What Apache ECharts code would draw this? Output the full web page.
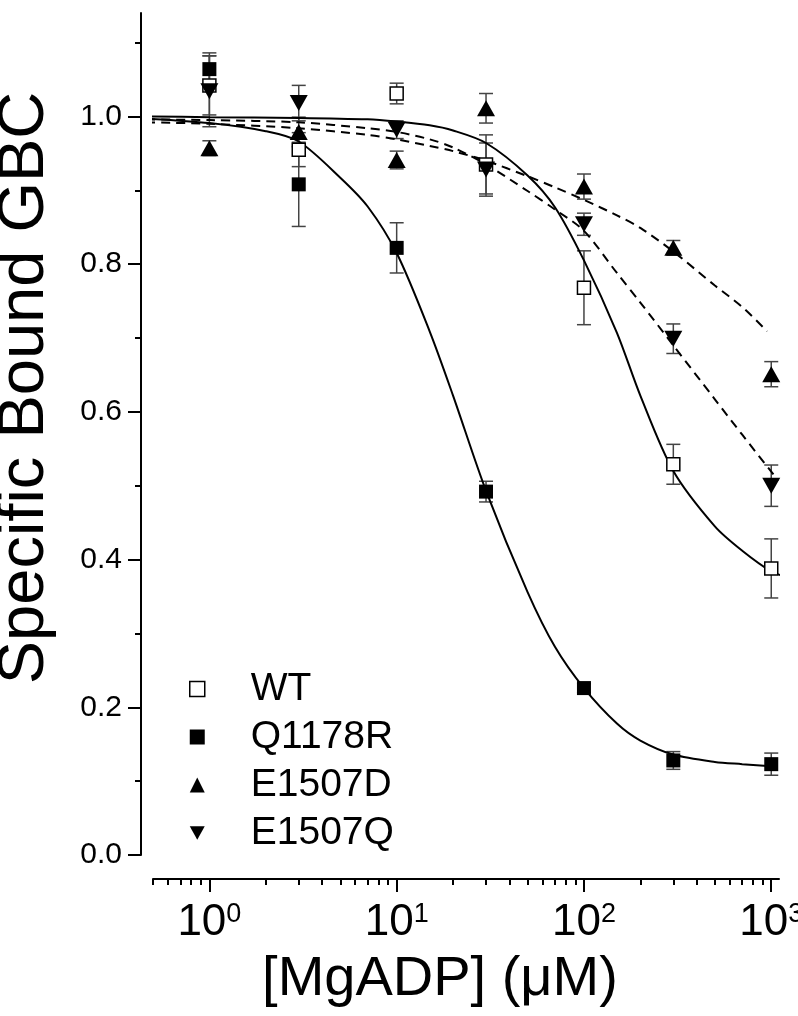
<!DOCTYPE html>
<html>
<head>
<meta charset="utf-8">
<script src="https://cdn.jsdelivr.net/npm/echarts@6/dist/echarts.min.js"></script>
<style>
html,body{margin:0;padding:0;background:#fff;}
#chart{width:798px;height:1016px;}
</style>
</head>
<body>
<div id="chart"></div>
<script>
// ---- data ----
const concentrations = [1, 3, 10, 30, 100, 300, 1000];

const wtValues      = [1.042, 0.955, 1.031, 0.935, 0.768, 0.529, 0.388];
const wtErrors      = [0.040, 0.023, 0.014, 0.040, 0.050, 0.027, 0.040];
const q1178rValues  = [1.064, 0.908, 0.822, 0.492, 0.226, 0.128, 0.123];
const q1178rErrors  = [0.022, 0.057, 0.034, 0.014, 0.006, 0.012, 0.015];
const e1507dValues  = [0.957, 0.979, 0.941, 1.011, 0.905, 0.822, 0.651];
const e1507dErrors  = [0.010, 0.020, 0.012, 0.020, 0.017, 0.010, 0.017];
const e1507qValues  = [1.034, 1.018, 0.982, 0.928, 0.854, 0.699, 0.500];
const e1507qErrors  = [0.048, 0.024, 0.012, 0.036, 0.015, 0.020, 0.028];

// fitted curves
const wtFitX      = [0.46, 1, 3, 7, 10, 15, 20, 30, 50, 70, 100, 150, 200, 300, 500, 700, 1000, 1218];
const wtFitY      = [1.000, 0.999, 0.998, 0.996, 0.993, 0.988, 0.981, 0.964, 0.920, 0.877, 0.805, 0.707, 0.622, 0.520, 0.445, 0.412, 0.384, 0.376];
const q1178rFitX  = [0.46, 1, 2, 3, 5, 7, 10, 15, 20, 30, 50, 70, 100, 150, 200, 300, 500, 700, 1000, 1080];
const q1178rFitY  = [0.997, 0.991, 0.980, 0.966, 0.917, 0.878, 0.815, 0.709, 0.622, 0.493, 0.356, 0.282, 0.226, 0.178, 0.155, 0.136, 0.126, 0.123, 0.120, 0.119];
const e1507dFitX  = [0.46, 1, 3, 7, 10, 15, 20, 30, 50, 70, 100, 150, 200, 300, 500, 700, 950];
const e1507dFitY  = [0.992, 0.990, 0.984, 0.975, 0.969, 0.960, 0.953, 0.940, 0.919, 0.904, 0.887, 0.866, 0.849, 0.817, 0.771, 0.742, 0.709];
const e1507qFitX  = [0.46, 1, 3, 7, 10, 15, 20, 30, 50, 70, 100, 150, 200, 300, 500, 700, 1000, 1090];
const e1507qFitY  = [0.996, 0.995, 0.992, 0.984, 0.979, 0.969, 0.958, 0.935, 0.899, 0.874, 0.845, 0.788, 0.748, 0.690, 0.617, 0.569, 0.519, 0.507];

// axis ticks
const xMajorTicks = [1, 10, 100, 1000];
const xMinorTicks = [0.5, 0.6, 0.7, 0.8, 0.9, 2, 3, 4, 5, 6, 7, 8, 9, 20, 30, 40, 50, 60, 70, 80, 90, 200, 300, 400, 500, 600, 700, 800, 900];
const yMajorTicks = [0, 0.2, 0.4, 0.6, 0.8, 1.0];
const yMinorTicks = [0.1, 0.3, 0.5, 0.7, 0.9, 1.1];

const seriesNames = ['WT', 'Q1178R', 'E1507D', 'E1507Q'];

// ---- chart ----
const FONT = '"Liberation Sans", Arial, sans-serif';
const downTri = 'path://M0,0 L18,0 L9,16 Z';

function rows(vals, errs) { return concentrations.map((c, i) => [c, vals[i], errs[i]]); }
function pts(xs, ys) { return xs.map((x, i) => [x, ys[i]]); }

function errRender(params, api) {
  const x = api.value(0), y = api.value(1), e = api.value(2);
  const top = api.coord([x, y + e]);
  const bot = api.coord([x, y - e]);
  const hw = 7;
  const style = { stroke: '#444', lineWidth: 1.5 };
  return {
    type: 'group',
    children: [
      { type: 'line', shape: { x1: top[0], y1: top[1], x2: bot[0], y2: bot[1] }, style },
      { type: 'line', shape: { x1: top[0] - hw, y1: top[1], x2: top[0] + hw, y2: top[1] }, style },
      { type: 'line', shape: { x1: bot[0] - hw, y1: bot[1], x2: bot[0] + hw, y2: bot[1] }, style }
    ]
  };
}

function errSeries(name, vals, errs) {
  return { type: 'custom', name: name + ' err', renderItem: errRender, data: rows(vals, errs),
           encode: { x: 0, y: 1 }, z: 2, silent: true, clip: false };
}
function fitSeries(name, xs, ys, dashed) {
  return { type: 'line', name: name + ' fit', data: pts(xs, ys), showSymbol: false, symbol: 'none',
           smooth: 0.3, clip: false, z: 3, silent: true,
           lineStyle: { color: '#000', width: 2, type: dashed ? [9, 6] : 'solid' } };
}

const chart = echarts.init(document.getElementById('chart'), null, { renderer: 'canvas' });

const axisBase = {
  type: 'log', logBase: 10, min: 0.5, max: 1100, gridIndex: 0, offset: 24, position: 'bottom',
  splitLine: { show: false }, minorTick: { show: false }
};

chart.setOption({
  animation: false,
  backgroundColor: '#fff',
  grid: { left: 153, right: 19, top: 13, bottom: 161, containLabel: false, outerBoundsMode: 'none' },
  xAxis: [
    Object.assign({}, axisBase, {
      name: '[MgADP] (\u03bcM)',
      nameLocation: 'middle',
      nameGap: 73,
      nameTextStyle: { fontFamily: FONT, fontSize: 56, color: '#000', padding: [0, 52, 0, 0] },
      axisLine: { show: true, onZero: false, lineStyle: { color: '#000', width: 2 } },
      axisTick: { show: true, inside: false, length: 13, customValues: xMajorTicks, lineStyle: { color: '#000', width: 2 } },
      axisLabel: {
        show: true, margin: 22, customValues: xMajorTicks,
        formatter: v => '{b|10}{s|' + Math.round(Math.log10(v)) + '}',
        rich: {
          b: { fontFamily: FONT, fontSize: 44, color: '#000' },
          s: { fontFamily: FONT, fontSize: 27, color: '#000', verticalAlign: 'top' }
        }
      }
    }),
    Object.assign({}, axisBase, {
      axisLine: { show: false, onZero: false },
      axisTick: { show: true, inside: false, length: 6, customValues: xMinorTicks, lineStyle: { color: '#000', width: 2 } },
      axisLabel: { show: false }
    })
  ],
  yAxis: [
    {
      type: 'value', min: 0, max: 1.14, offset: 12, position: 'left',
      name: 'Specific Bound GBC',
      nameLocation: 'middle',
      nameGap: 83,
      nameTextStyle: { fontFamily: FONT, fontSize: 65, color: '#000', padding: [0, 0, 0, 92] },
      splitLine: { show: false },
      axisLine: { show: true, onZero: false, lineStyle: { color: '#000', width: 2 } },
      axisTick: { show: true, inside: false, length: 13, customValues: yMajorTicks, lineStyle: { color: '#000', width: 2 } },
      axisLabel: { show: true, margin: 19, customValues: yMajorTicks, formatter: v => v.toFixed(1),
                   fontFamily: FONT, fontSize: 30, color: '#000' }
    },
    {
      type: 'value', min: 0, max: 1.14, offset: 12, position: 'left',
      splitLine: { show: false },
      axisLine: { show: false, onZero: false },
      axisTick: { show: true, inside: false, length: 6, customValues: yMinorTicks, lineStyle: { color: '#000', width: 2 } },
      axisLabel: { show: false }
    }
  ],
  legend: {
    orient: 'vertical', left: 184, top: 664, itemGap: 8, itemWidth: 15, itemHeight: 15,
    selectedMode: false,
    textStyle: { fontFamily: FONT, fontSize: 39, color: '#000', lineHeight: 40, padding: [0, 0, 0, 41] },
    data: [
      { name: 'WT', icon: 'rect', itemStyle: { color: '#fff', borderColor: '#000', borderWidth: 1.5 } },
      { name: 'Q1178R', icon: 'rect', itemStyle: { color: '#000', borderWidth: 0 } },
      { name: 'E1507D', icon: 'triangle', itemStyle: { color: '#000', borderWidth: 0 } },
      { name: 'E1507Q', icon: downTri, itemStyle: { color: '#000', borderWidth: 0 } }
    ]
  },
  series: [
    errSeries('WT', wtValues, wtErrors),
    errSeries('Q1178R', q1178rValues, q1178rErrors),
    errSeries('E1507D', e1507dValues, e1507dErrors),
    errSeries('E1507Q', e1507qValues, e1507qErrors),
    fitSeries('WT', wtFitX, wtFitY, false),
    fitSeries('Q1178R', q1178rFitX, q1178rFitY, false),
    fitSeries('E1507D', e1507dFitX, e1507dFitY, true),
    fitSeries('E1507Q', e1507qFitX, e1507qFitY, true),
    { type: 'scatter', name: seriesNames[0], data: pts(concentrations, wtValues), symbol: 'rect', symbolSize: 13, z: 5,
      itemStyle: { color: '#fff', borderColor: '#000', borderWidth: 1.5, opacity: 1 } },
    { type: 'scatter', name: seriesNames[1], data: pts(concentrations, q1178rValues), symbol: 'rect', symbolSize: 14, z: 5,
      itemStyle: { color: '#000', opacity: 1 } },
    { type: 'scatter', name: seriesNames[2], data: pts(concentrations, e1507dValues), symbol: 'triangle', symbolSize: [18, 16], z: 5,
      itemStyle: { color: '#000', opacity: 1 } },
    { type: 'scatter', name: seriesNames[3], data: pts(concentrations, e1507qValues), symbol: downTri, symbolSize: [18, 16], z: 5,
      itemStyle: { color: '#000', opacity: 1 } }
  ]
});
</script>
</body>
</html>
